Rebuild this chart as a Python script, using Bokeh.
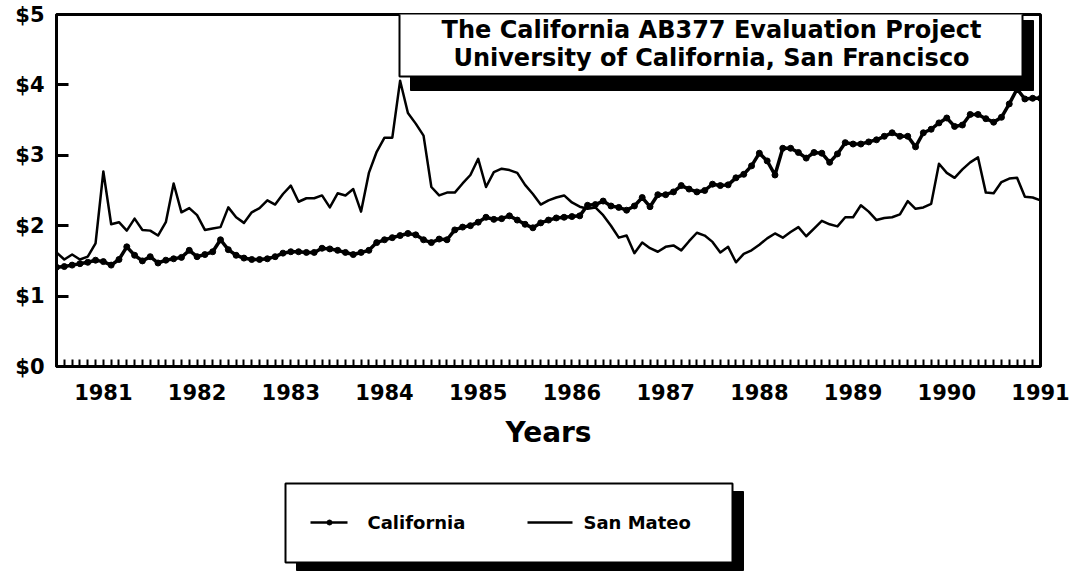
from bokeh.plotting import figure
from bokeh.models import Range1d, FixedTicker, NumeralTickFormatter, BoxAnnotation, Label
from bokeh.layouts import column
from bokeh.embed import file_html
from bokeh.resources import INLINE
from bokeh.core.properties import value

# ---------------- data (monthly, July 1980 - January 1991) ----------------
start_year = 1980
start_month = 7  # July
years = [1981, 1982, 1983, 1984, 1985, 1986, 1987, 1988, 1989, 1990, 1991]
y_ticks = [0, 1, 2, 3, 4, 5]

california = [
    1.41, 1.42, 1.44, 1.46, 1.48, 1.51, 1.49, 1.44, 1.52, 1.70,
    1.58, 1.50, 1.56, 1.47, 1.51, 1.53, 1.55, 1.65, 1.56, 1.59,
    1.63, 1.80, 1.66, 1.58, 1.54, 1.52, 1.52, 1.53, 1.56, 1.61,
    1.63, 1.63, 1.62, 1.62, 1.68, 1.67, 1.65, 1.62, 1.59, 1.62,
    1.65, 1.76, 1.80, 1.83, 1.86, 1.89, 1.87, 1.80, 1.76, 1.81,
    1.80, 1.94, 1.98, 2.00, 2.05, 2.12, 2.09, 2.10, 2.14, 2.08,
    2.02, 1.97, 2.04, 2.08, 2.11, 2.12, 2.13, 2.14, 2.29, 2.30,
    2.35, 2.28, 2.26, 2.22, 2.28, 2.40, 2.27, 2.44, 2.44, 2.48,
    2.57, 2.52, 2.48, 2.50, 2.59, 2.57, 2.58, 2.68, 2.73, 2.85,
    3.03, 2.92, 2.72, 3.10, 3.10, 3.04, 2.96, 3.04, 3.03, 2.90,
    3.02, 3.18, 3.16, 3.16, 3.19, 3.22, 3.27, 3.32, 3.27, 3.27,
    3.12, 3.32, 3.37, 3.46, 3.53, 3.41, 3.43, 3.58, 3.58, 3.52,
    3.47, 3.54, 3.73, 3.94, 3.80, 3.81, 3.81,
]

san_mateo = [
    1.62, 1.52, 1.59, 1.52, 1.56, 1.75, 2.77, 2.02, 2.05, 1.93,
    2.10, 1.94, 1.93, 1.86, 2.05, 2.60, 2.19, 2.25, 2.15, 1.94,
    1.96, 1.98, 2.26, 2.12, 2.04, 2.19, 2.25, 2.36, 2.30, 2.45,
    2.57, 2.34, 2.39, 2.39, 2.43, 2.26, 2.46, 2.43, 2.52, 2.20,
    2.75, 3.05, 3.25, 3.25, 4.06, 3.60, 3.45, 3.28, 2.55, 2.43,
    2.47, 2.47, 2.60, 2.72, 2.95, 2.55, 2.76, 2.81, 2.79, 2.75,
    2.58, 2.45, 2.30, 2.36, 2.40, 2.43, 2.33, 2.27, 2.24, 2.26,
    2.15, 2.00, 1.83, 1.86, 1.61, 1.76, 1.68, 1.63, 1.70, 1.72,
    1.65, 1.78, 1.90, 1.86, 1.77, 1.62, 1.70, 1.48, 1.60, 1.65,
    1.73, 1.82, 1.89, 1.83, 1.91, 1.98, 1.85, 1.96, 2.07, 2.02,
    1.99, 2.12, 2.12, 2.29, 2.20, 2.08, 2.11, 2.12, 2.16, 2.35,
    2.24, 2.26, 2.31, 2.88, 2.75, 2.68, 2.80, 2.90, 2.97, 2.47,
    2.46, 2.62, 2.67, 2.68, 2.41, 2.40, 2.36,
]

title_lines = ["The California AB377 Evaluation Project",
               "University of California, San Francisco"]
series_names = ["California", "San Mateo"]

# x positions: decimal years for each month
x = [start_year + (start_month - 1 + i) / 12 for i in range(len(california))]

FONT = "DejaVu Sans"

W, H1, H2 = 1080, 460, 116
FR_L, FR_R, FR_T, FR_B = 56, 1040, 14, 366  # plot frame in page px

p = figure(width=W, height=H1, output_backend="svg", toolbar_location=None,
           x_range=Range1d(x[0], x[-1]), y_range=Range1d(0, 5),
           min_border_left=FR_L, min_border_right=W - FR_R, min_border_top=FR_T,
           min_border_bottom=H1 - FR_B)
p.xgrid.visible = False
p.ygrid.visible = False
p.outline_line_color = "black"
p.outline_line_width = 3
p.background_fill_color = "white"
p.border_fill_color = "white"

# x axis
p.xaxis.ticker = FixedTicker(ticks=years, minor_ticks=x)
p.xaxis.major_label_overrides = {yr: str(yr) for yr in years}
p.xaxis.major_tick_in = 0
p.xaxis.major_tick_out = 0
p.xaxis.minor_tick_in = 7
p.xaxis.minor_tick_out = 0
p.xaxis.minor_tick_line_width = 2
p.xaxis.minor_tick_line_color = "black"
p.xaxis.axis_line_width = 3
p.xaxis.axis_line_color = "black"
p.xaxis.major_label_text_font = FONT
p.xaxis.major_label_text_font_style = "bold"
p.xaxis.major_label_text_font_size = "21px"
p.xaxis.major_label_text_color = "black"
p.xaxis.major_label_standoff = 17
p.xaxis.axis_label = "Years"
p.xaxis.axis_label_text_font = FONT
p.xaxis.axis_label_text_font_style = "bold"
p.xaxis.axis_label_text_font_size = "28px"
p.xaxis.axis_label_text_color = "black"
p.xaxis.axis_label_standoff = 13

# y axis
p.yaxis.ticker = FixedTicker(ticks=y_ticks, minor_ticks=[])
p.yaxis.formatter = NumeralTickFormatter(format="$0")
p.yaxis.major_tick_in = 12
p.yaxis.major_tick_out = 0
p.yaxis.major_tick_line_width = 3
p.yaxis.major_tick_line_color = "black"
p.yaxis.minor_tick_in = 0
p.yaxis.minor_tick_out = 0
p.yaxis.axis_line_width = 3
p.yaxis.axis_line_color = "black"
p.yaxis.major_label_text_font = FONT
p.yaxis.major_label_text_font_style = "bold"
p.yaxis.major_label_text_font_size = "21px"
p.yaxis.major_label_text_color = "black"
p.yaxis.major_label_standoff = 12

# series
p.line(x, san_mateo, line_color="black", line_width=2.5, line_join="round")
p.line(x, california, line_color="black", line_width=3.5, line_join="round")
p.scatter(x, california, size=6, marker="circle", fill_color="black", line_color="black")

# ---- title box (page-pixel helpers for decoration placement) ----
def px2x(px):
    return x[0] + (px - FR_L) * (x[-1] - x[0]) / (FR_R - FR_L)
def py2y(py):
    return (FR_B - py) * 5 / (FR_B - FR_T)

p.add_layout(BoxAnnotation(left=px2x(410), right=px2x(1033), top=py2y(20), bottom=py2y(90),
                           fill_color="black", fill_alpha=1, line_color="black", line_alpha=1,
                           level="overlay"))
p.add_layout(BoxAnnotation(left=px2x(399), right=px2x(1022), top=py2y(12), bottom=py2y(76),
                           fill_color="white", fill_alpha=1, line_color="black", line_width=2,
                           line_alpha=1, level="overlay"))
for t, py in zip(title_lines, [29, 57]):
    p.add_layout(Label(x=px2x(711), y=py2y(py), text=t, text_align="center",
                       text_baseline="middle", text_font=FONT,
                       text_font_style="bold", text_font_size="24px",
                       text_color="black", level="overlay"))

# ---------------- legend panel (coordinates = page px) ----------------
p2 = figure(width=W, height=H2, output_backend="svg", toolbar_location=None,
            x_range=Range1d(FR_L, FR_R), y_range=Range1d(H1 + H2, H1),
            x_axis_location=None, y_axis_location=None,
            min_border_left=FR_L, min_border_right=W - FR_R,
            min_border_top=0, min_border_bottom=0)
p2.outline_line_color = None
p2.xgrid.visible = False
p2.ygrid.visible = False

p2.quad(left=[296], right=[743], top=[491], bottom=[570], fill_color="black", line_color="black")
p2.quad(left=[285], right=[732], top=[483], bottom=[562], fill_color="white",
        line_color="black", line_width=2)
p2.line([310, 347], [522, 522], line_color="black", line_width=2.5)
p2.scatter([329], [522], size=5, marker="circle", fill_color="black", line_color="black")
p2.line([527, 572], [522, 522], line_color="black", line_width=2.5)
p2.text(x=[367, 583], y=[522, 522], text=series_names, text_font=value(FONT),
        text_font_style="bold", text_font_size="18px", text_baseline="middle",
        text_align="left", text_color="black")

layout = column(p, p2, spacing=0)
open("out.html", "w").write(file_html(layout, INLINE))
